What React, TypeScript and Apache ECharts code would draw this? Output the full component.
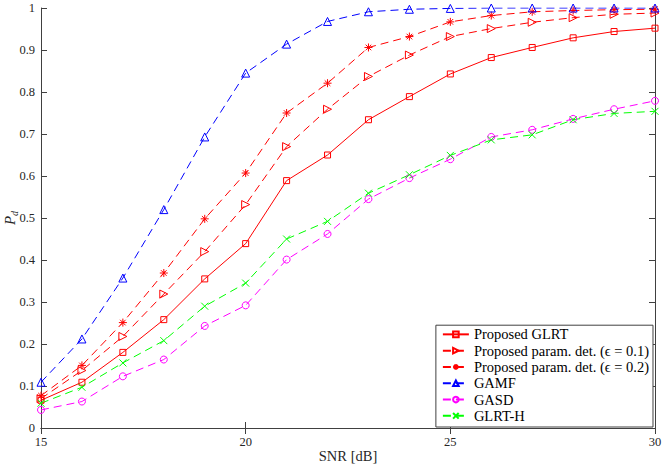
import React, { useEffect, useRef } from "react";
import * as echarts from "echarts";

const snr = [15, 16, 17, 18, 19, 20, 21, 22, 23, 24, 25, 26, 27, 28, 29, 30];
const glrt = [0.066, 0.109, 0.18, 0.258, 0.355, 0.439, 0.589, 0.65, 0.734, 0.789, 0.843, 0.882, 0.906, 0.929, 0.944, 0.952];
const param01 = [0.07, 0.137, 0.218, 0.319, 0.42, 0.532, 0.67, 0.759, 0.837, 0.888, 0.932, 0.951, 0.966, 0.977, 0.985, 0.988];
const param02 = [0.077, 0.149, 0.251, 0.369, 0.498, 0.607, 0.75, 0.821, 0.906, 0.932, 0.967, 0.982, 0.991, 0.994, 0.996, 0.997];
const gamf = [0.109, 0.212, 0.357, 0.52, 0.693, 0.845, 0.914, 0.968, 0.991, 0.997, 0.999, 1.0, 1.0, 1.0, 1.0, 1.0];
const gasd = [0.043, 0.063, 0.123, 0.163, 0.243, 0.292, 0.401, 0.462, 0.545, 0.595, 0.64, 0.693, 0.71, 0.736, 0.759, 0.779];
const glrtH = [0.059, 0.097, 0.155, 0.208, 0.29, 0.345, 0.45, 0.492, 0.559, 0.603, 0.649, 0.686, 0.698, 0.734, 0.749, 0.754];

const seriesNames = [
  "Proposed GLRT",
  "Proposed param. det. (ϵ = 0.1)",
  "Proposed param. det. (ϵ = 0.2)",
  "GAMF",
  "GASD",
  "GLRT-H",
];

const FONT = "'Liberation Serif', 'Times New Roman', serif";

const SYM_SQUARE = "path://M0,0 L10,0 L10,10 L0,10 Z";
const SYM_TRI_RIGHT = "path://M0,0 L10,5 L0,10 Z";
const SYM_TRI_UP = "path://M5,0 L10,9 L0,9 Z";
const SYM_STAR = "path://M5,0 L5,10 M0,5 L10,5 M1.5,1.5 L8.5,8.5 M8.5,1.5 L1.5,8.5";
const SYM_CROSS = "path://M0,0 L10,10 M10,0 L0,10";

function mk(name: string, values: number[], color: string, dashed: boolean, symbol: string, size: number) {
  return {
    name,
    type: "line",
    data: snr.map((x, i) => [x, values[i]]),
    symbol,
    symbolSize: size,
    showAllSymbol: true,
    lineStyle: { color, width: 1, type: dashed ? [8, 5] : "solid" },
    itemStyle: { color: "none", borderColor: color, borderWidth: 1 },
    emphasis: { disabled: true },
    z: 2,
  };
}

export default function App() {
  const ref = useRef<HTMLDivElement>(null);
  useEffect(() => {
    if (!ref.current) return;
    const chart = echarts.init(ref.current, null, { renderer: "svg" });
    const axisLine = { show: true, lineStyle: { color: "#404040", width: 1 } };
    const axisTick = { show: true, inside: true, length: 6, lineStyle: { color: "#404040", width: 1 } };
    chart.setOption({
      animation: false,
      backgroundColor: "#ffffff",
      textStyle: { fontFamily: FONT },
      grid: { left: 41, right: 9, top: 8, bottom: 41, containLabel: false, outerBoundsMode: "none" },
      xAxis: [
        {
          type: "value",
          min: 15,
          max: 30,
          interval: 5,
          position: "bottom",
          axisLine,
          axisTick,
          splitLine: { show: false },
          axisLabel: { color: "#262626", fontSize: 12.5, fontFamily: FONT, margin: 7 },
          name: "SNR [dB]",
          nameLocation: "middle",
          nameGap: 20,
          nameMoveOverlap: false,
          nameTextStyle: { color: "#262626", fontSize: 14.5, fontFamily: FONT },
        },
        {
          type: "value",
          min: 15,
          max: 30,
          interval: 5,
          position: "top",
          axisLine,
          axisTick,
          splitLine: { show: false },
          axisLabel: { show: false },
        },
      ],
      yAxis: [
        {
          type: "value",
          min: 0,
          max: 1,
          interval: 0.1,
          position: "left",
          axisLine,
          axisTick,
          splitLine: { show: false },
          axisLabel: { color: "#262626", fontSize: 12.5, fontFamily: FONT, margin: 6 },
          name: "{p|P}{d|d}",
          nameLocation: "middle",
          nameRotate: 90,
          nameGap: 22,
          nameMoveOverlap: false,
          nameTextStyle: {
            color: "#262626",
            fontFamily: FONT,
            rich: {
              p: { fontSize: 15, fontStyle: "italic", fontFamily: FONT, color: "#262626", lineHeight: 18, verticalAlign: "middle" },
              d: { fontSize: 10, fontStyle: "italic", fontFamily: FONT, color: "#262626", lineHeight: 18, verticalAlign: "bottom" },
            },
          },
        },
        {
          type: "value",
          min: 0,
          max: 1,
          interval: 0.1,
          position: "right",
          axisLine,
          axisTick,
          splitLine: { show: false },
          axisLabel: { show: false },
        },
      ],
      legend: {
        orient: "vertical",
        right: 11,
        bottom: 42,
        padding: [1, 4, 3, 6],
        itemWidth: 26,
        itemHeight: 7,
        itemGap: 0,
        backgroundColor: "#ffffff",
        borderColor: "#404040",
        borderWidth: 1,
        borderRadius: 0,
        selectedMode: false,
        textStyle: { fontFamily: FONT, fontSize: 14.5, color: "#000000", lineHeight: 16.3, padding: [0, 0, 0, 0] },
        data: seriesNames,
      },
      series: [
        mk(seriesNames[0], glrt, "#ff0000", false, SYM_SQUARE, 6),
        mk(seriesNames[1], param01, "#ff0000", true, SYM_TRI_RIGHT, 8),
        mk(seriesNames[2], param02, "#ff0000", true, SYM_STAR, 8),
        mk(seriesNames[3], gamf, "#0000ff", true, SYM_TRI_UP, 8),
        mk(seriesNames[4], gasd, "#ff00ff", true, "circle", 7),
        mk(seriesNames[5], glrtH, "#00ff00", true, SYM_CROSS, 7),
      ],
    });
    return () => chart.dispose();
  }, []);
  return <div ref={ref} style={{ position: "fixed", left: 0, top: 0, width: 664, height: 469 }} />;
}
